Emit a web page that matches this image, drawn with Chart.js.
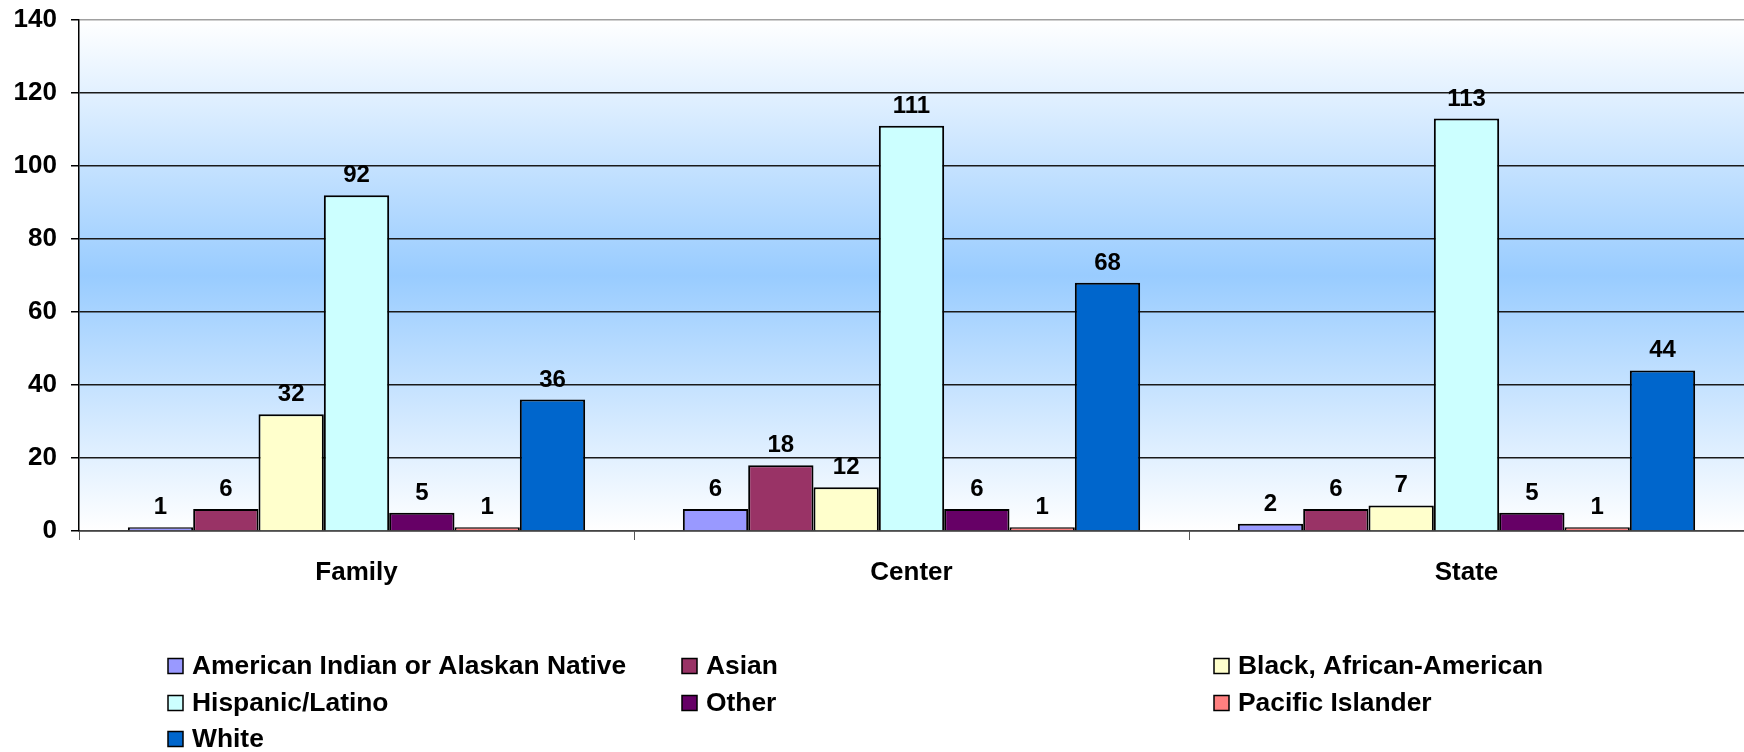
<!DOCTYPE html>
<html>
<head>
<meta charset="utf-8">
<script src="https://cdn.jsdelivr.net/npm/chart.js@4.4.1/dist/chart.umd.min.js"></script>
<style>
  html, body { margin: 0; padding: 0; background: #fff; }
  #wrap { width: 1744px; height: 752px; }
</style>
</head>
<body>
<div id="wrap"><canvas id="raceChart" width="1744" height="752"></canvas></div>
<script>
// categories and series
const categories = ["Family", "Center", "State"];
const americanIndian = [1, 6, 2];
const asian = [6, 18, 6];
const black = [32, 12, 7];
const hispanic = [92, 111, 113];
const other = [5, 6, 5];
const pacific = [1, 1, 1];
const white = [36, 68, 44];
const yTicks = [0, 20, 40, 60, 80, 100, 120, 140];

const FONT = "'Liberation Sans', Arial, sans-serif";

// blue band behind the plot, white at top and bottom
const plotBackground = {
  id: "plotBackground",
  beforeDraw(chart) {
    const { ctx, chartArea: a } = chart;
    const g = ctx.createLinearGradient(0, a.top, 0, a.bottom);
    g.addColorStop(0, "#ffffff");
    g.addColorStop(0.5, "#99ccff");
    g.addColorStop(1, "#ffffff");
    ctx.save();
    ctx.fillStyle = g;
    ctx.fillRect(a.left, a.top, a.right - a.left, a.bottom - a.top);
    ctx.restore();
  }
};

// value above each bar
const barLabels = {
  id: "barLabels",
  afterDatasetsDraw(chart) {
    const ctx = chart.ctx;
    ctx.save();
    ctx.font = "bold 24px " + FONT;
    ctx.fillStyle = "#000";
    ctx.textAlign = "center";
    ctx.textBaseline = "alphabetic";
    chart.data.datasets.forEach((ds, i) => {
      chart.getDatasetMeta(i).data.forEach((bar, j) => {
        ctx.fillText(ds.data[j], bar.x, bar.y - 13);
      });
    });
    ctx.restore();
  }
};

// three column legend like the original
const gridLegend = {
  id: "gridLegend",
  afterDraw(chart) {
    const ctx = chart.ctx;
    const cols = [168, 682, 1214];
    const rows = [666, 703, 739];
    ctx.save();
    ctx.font = "bold 26.4px " + FONT;
    ctx.textBaseline = "middle";
    ctx.textAlign = "left";
    chart.data.datasets.forEach((ds, i) => {
      const x = cols[i % 3];
      const y = rows[Math.floor(i / 3)];
      ctx.fillStyle = ds.backgroundColor;
      ctx.fillRect(x, y - 7.5, 15, 15);
      ctx.lineWidth = 1.5;
      ctx.strokeStyle = "#000";
      ctx.strokeRect(x, y - 7.5, 15, 15);
      ctx.fillStyle = "#000";
      ctx.fillText(ds.label, x + 24, y + 1);
    });
    ctx.restore();
  }
};

function series(label, data, color) {
  return { label, data, backgroundColor: color, borderColor: "#000", borderWidth: 2 };
}

const ctx = document.getElementById("raceChart").getContext("2d");

const chart = new Chart(ctx, {
  type: "bar",
  data: {
    labels: categories,
    datasets: [
      series("American Indian or Alaskan Native", americanIndian, "#9999ff"),
      series("Asian", asian, "#993366"),
      series("Black, African-American", black, "#ffffcc"),
      series("Hispanic/Latino", hispanic, "#ccffff"),
      series("Other", other, "#660066"),
      series("Pacific Islander", pacific, "#ff8080"),
      series("White", white, "#0066cc")
    ]
  },
  options: {
    responsive: false,
    animation: false,
    devicePixelRatio: 1,
    layout: { padding: { top: 20, right: 0, left: 0, bottom: 0 } },
    datasets: { bar: { categoryPercentage: 0.824, barPercentage: 1 } },
    plugins: {
      legend: { display: false },
      tooltip: { enabled: false }
    },
    scales: {
      x: {
        afterFit(scale) {
          scale.height = 221;
          scale.paddingLeft = 0;
          scale.paddingRight = 0;
        },
        grid: {
          offset: true,
          drawOnChartArea: false,
          drawTicks: true,
          tickLength: 9,
          tickColor: "#555"
        },
        border: { display: true, color: "#444", width: 1.5 },
        ticks: {
          color: "#000",
          padding: 17,
          font: { family: FONT, size: 26, weight: "bold" }
        }
      },
      y: {
        min: 0,
        max: 140,
        afterFit(scale) {
          scale.width = 79;
          scale.paddingTop = 0;
          scale.paddingBottom = 0;
        },
        afterBuildTicks(scale) { scale.ticks = yTicks.map(v => ({ value: v })); },
        grid: {
          color: c => (c.tick && c.tick.value === 140 ? "#a0a0a0" : "#1a1a1a"),
          lineWidth: 1.5,
          tickLength: 8,
          tickColor: "#000"
        },
        border: { display: true, color: "#000", width: 1.5 },
        ticks: {
          color: "#000",
          padding: 14,
          font: { family: FONT, size: 26, weight: "bold" }
        }
      }
    }
  },
  plugins: [plotBackground, barLabels, gridLegend]
});
</script>
</body>
</html>
